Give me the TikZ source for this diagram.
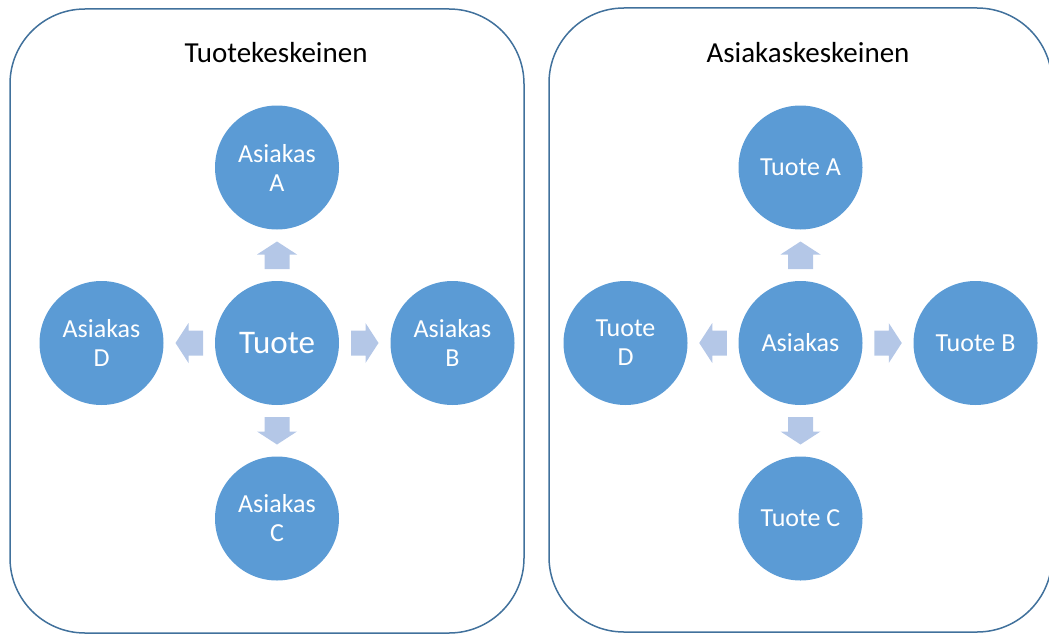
\documentclass[tikz,border=0pt]{standalone}
\usepackage{fontspec}
\setmainfont{Carlito}
\usetikzlibrary{calc}
\definecolor{circfill}{HTML}{5B9BD5}
\definecolor{arrfill}{HTML}{B4C7E7}
\definecolor{framecol}{HTML}{41719C}

\begin{document}
\begin{tikzpicture}[x=1pt,y=-1pt,
  panel/.style={draw=framecol, line width=1.5pt, rounded corners=75pt},
  bubble/.style={circle, fill=circfill, minimum size=124pt, inner sep=0pt,
    text=white, font=\fontsize{26}{29}\selectfont, align=center},
  heading/.style={font=\fontsize{29}{34}\selectfont, text=black},
  blockarr/.pic={\fill[arrfill] (-13.75,-12.5) -- (0.75,-12.5) -- (0.75,-20)
    -- (13.75,0) -- (0.75,20) -- (0.75,12.5) -- (-13.75,12.5) -- cycle;}]

\useasboundingbox (0,0) rectangle (1049,634);
\clip (0,0) rectangle (1049,634);

% two rounded frames
\draw[panel] (10,9) rectangle (524,633);
\draw[panel] (549,8) rectangle (1052,632);

% left panel: product in the middle
\node[heading] (titleL) at (276,53) {Tuotekeskeinen};
\node[bubble, font=\fontsize{33}{36}\selectfont] (tuote) at (277,343) {Tuote};
\node[bubble] (asA) at (277,167.5) {Asiakas\\A};
\node[bubble] (asB) at (452.5,343) {Asiakas\\B};
\node[bubble] (asC) at (277,518.5) {Asiakas\\C};
\node[bubble] (asD) at (101.5,343) {Asiakas\\D};

\pic[rotate=90]  at ($(tuote)!0.5!(asA)$) {blockarr};
\pic[rotate=0]   at ($(tuote)!0.5!(asB)$) {blockarr};
\pic[rotate=-90] at ($(tuote)!0.5!(asC)$) {blockarr};
\pic[rotate=180] at ($(tuote)!0.5!(asD)$) {blockarr};

% right panel: customer in the middle
\node[heading] (titleR) at (808,53) {Asiakaskeskeinen};
\node[bubble] (asiakas) at (800.5,343) {Asiakas};
\node[bubble] (tuA) at (800.5,167.5) {Tuote A};
\node[bubble] (tuB) at (975.5,343) {Tuote B};
\node[bubble] (tuC) at (800.5,518.5) {Tuote C};
\node[bubble] (tuD) at (625.5,343) {Tuote\\D};

\pic[rotate=90]  at ($(asiakas)!0.5!(tuA)$) {blockarr};
\pic[rotate=0]   at ($(asiakas)!0.5!(tuB)$) {blockarr};
\pic[rotate=-90] at ($(asiakas)!0.5!(tuC)$) {blockarr};
\pic[rotate=180] at ($(asiakas)!0.5!(tuD)$) {blockarr};
\end{tikzpicture}
\end{document}
